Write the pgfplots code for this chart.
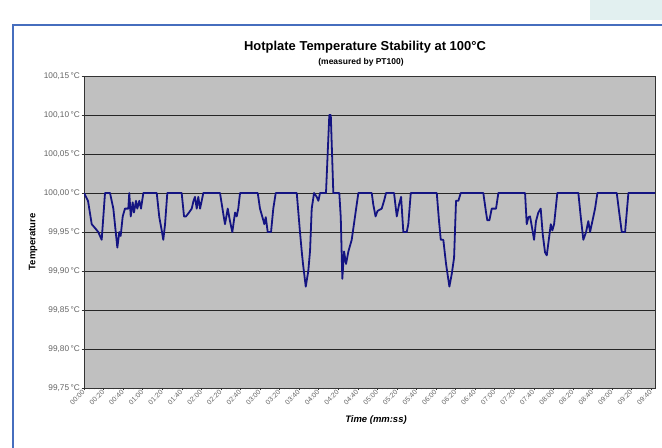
\documentclass[border=0pt]{standalone}
\usepackage{fontspec}
\setmainfont{Liberation Sans}
\usepackage{pgfplots}
\pgfplotsset{compat=1.18}
\definecolor{frameblue}{RGB}{70,110,190}
\definecolor{plotgray}{RGB}{192,192,192}
\definecolor{navyline}{RGB}{20,20,130}
\definecolor{ticktext}{RGB}{100,100,100}
\definecolor{pale}{RGB}{226,240,240}
\begin{document}
\begin{tikzpicture}
\useasboundingbox (0,0) rectangle (662bp,448bp);
\fill[white] (0,0) rectangle (662bp,448bp);
\fill[pale] (590bp,428bp) rectangle (662bp,448bp);
\draw[frameblue, line width=2bp] (13bp,0) -- (13bp,423bp) -- (662bp,423bp);
\begin{axis}[
  at={(84bp,60bp)}, anchor=south west,
  width=571bp, height=312bp, scale only axis,
  xmin=0, xmax=584, ymin=99.75, ymax=100.15,
  axis background/.style={fill=plotgray},
  axis line style={draw=black!80, line width=0.8bp},
  ytick={99.75,99.80,...,100.16},
  yticklabels={{99,75\,°C},{99,80\,°C},{99,85\,°C},{99,90\,°C},{99,95\,°C},{100,00\,°C},{100,05\,°C},{100,10\,°C},{100,15\,°C}},
  xtick={0,20,...,580},
  xticklabels={00:00,00:20,00:40,01:00,01:20,01:40,02:00,02:20,02:40,03:00,03:20,03:40,04:00,04:20,04:40,05:00,05:20,05:40,06:00,06:20,06:40,07:00,07:20,07:40,08:00,08:20,08:40,09:00,09:20,09:40},
  minor x tick num=3,
  xtick pos=bottom, ytick pos=left,
  tick align=outside,
  major tick length=2.5bp, minor tick length=1.5bp,
  tick style={black!80, line width=0.5bp},
  ymajorgrids,
  grid style={black!85, line width=0.9bp},
  xticklabel style={rotate=45, anchor=east, font=\fontsize{7}{7}\selectfont, text=ticktext, inner sep=0.5bp},
  yticklabel style={font=\fontsize{8.3}{9}\selectfont, text=ticktext, inner sep=1.5bp},
  clip=true,
]
\addplot[navyline, line width=1.8bp, line join=round] coordinates {
(0,100.00)(4.1,99.99)(7.9,99.96)(11.3,99.955)(14.6,99.95)(18.1,99.94)(21.5,100.00)(26.6,100.00)
(30.0,99.98)(34.1,99.93)(36.1,99.95)(37.5,99.945)(39.6,99.97)(41.9,99.98)(45.3,99.98)(46.3,100.00)
(47.8,99.97)(49.8,99.988)(51.1,99.975)(53.2,99.99)(54.5,99.98)(56.6,99.99)(58.3,99.98)(60.7,100.00)
(74.4,100.00)(77.0,99.969)(79.5,99.952)(81.1,99.94)(82.9,99.96)(85.2,100.00)
(99.9,100.00)(102.3,99.97)(104.3,99.97)(107.4,99.975)(110.2,99.98)(112.0,99.99)(113.5,99.995)
(115.3,99.98)(116.9,99.995)(118.7,99.98)(120.4,99.99)(122.0,100.00)
(139.1,100.00)(142.5,99.973)(144.2,99.96)(147.0,99.98)(149.3,99.964)(151.7,99.95)(154.5,99.975)
(156.2,99.97)(157.8,99.98)(159.6,100.00)
(177.7,100.00)(180.0,99.98)(183.4,99.965)(184.4,99.96)(185.9,99.969)(187.9,99.95)(191.3,99.95)
(193.6,99.98)(196.1,100.00)
(217.6,100.00)(220.9,99.95)(222.7,99.925)(224.0,99.909)(226.8,99.88)(229.4,99.90)(231.2,99.926)
(232.9,99.98)(235.3,100.00)(238.0,99.995)(239.7,99.99)(241.4,100.00)
(247.5,100.00)(250.9,100.10)(252.4,100.10)(255.0,100.00)
(261.1,100.00)(262.6,99.969)(264.2,99.89)(266.0,99.925)(268.0,99.909)(270.4,99.925)(273.8,99.94)
(277.2,99.97)(280.6,100.00)
(294.3,100.00)(295.9,99.985)(298.2,99.97)(300.2,99.977)(304.5,99.98)(306.9,99.99)(308.9,100.00)
(317.1,100.00)(319.9,99.97)(322.2,99.985)(324.3,99.995)(326.6,99.95)(330.1,99.95)(331.7,99.96)(334.2,100.00)
(360.8,100.00)(363.1,99.964)(364.9,99.94)(367.5,99.94)(370.3,99.909)(373.7,99.88)(376.1,99.896)
(378.5,99.917)(380.5,99.99)(382.9,99.99)(385.3,100.00)
(408.4,100.00)(411.2,99.975)(412.5,99.965)(414.6,99.965)(417.0,99.98)(421.4,99.98)(423.8,100.00)
(451.1,100.00)(452.8,99.96)(454.5,99.969)(456.2,99.97)(457.9,99.958)(460.3,99.94)(462.3,99.964)
(464.7,99.975)(467.1,99.98)(469.2,99.947)(471.5,99.924)(473.3,99.92)(475.9,99.945)(477.4,99.96)
(479.0,99.952)(480.8,99.96)(484.1,100.00)
(505.6,100.00)(508.1,99.969)(510.7,99.94)(513.5,99.95)(515.8,99.964)(517.6,99.95)(519.3,99.96)
(522.7,99.98)(525.1,100.00)
(544.9,100.00)(547.6,99.973)(550.0,99.95)(553.4,99.95)(556.8,100.00)
(584,100.00)
};
\end{axis}
\node[font=\bfseries\fontsize{13}{15}\selectfont] at (365bp,401bp) {Hotplate Temperature Stability at 100°C};
\node[font=\bfseries\fontsize{8.5}{10}\selectfont] at (361bp,386bp) {(measured by PT100)};
\node[font=\bfseries\fontsize{9.5}{11}\selectfont, rotate=90] at (33bp,206bp) {Temperature};
\node[font=\bfseries\itshape\fontsize{9.5}{11}\selectfont] at (376bp,28bp) {Time (mm:ss)};
\end{tikzpicture}
\end{document}
